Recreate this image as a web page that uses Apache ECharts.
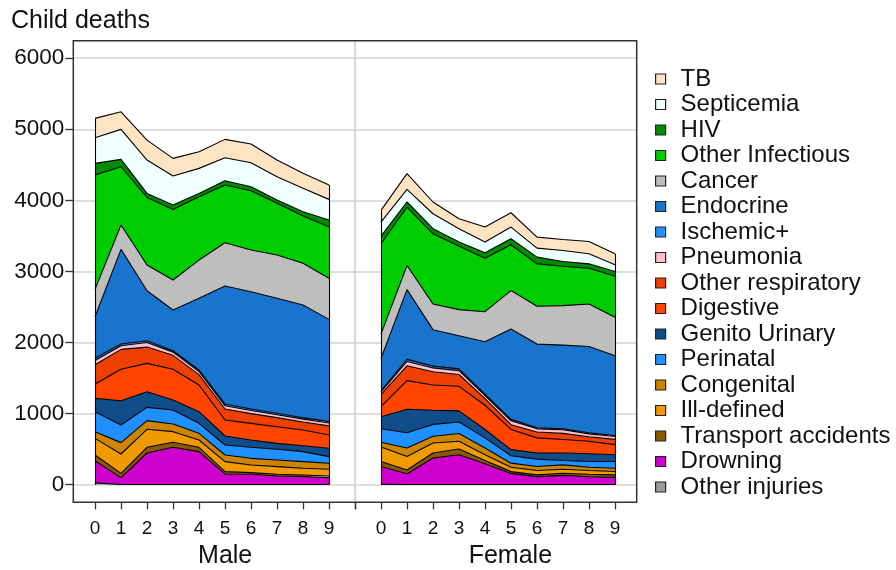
<!DOCTYPE html>
<html><head><meta charset="utf-8">
<script src="https://cdn.jsdelivr.net/npm/echarts@6/dist/echarts.min.js"></script>
<style>html,body{margin:0;padding:0;background:#fff}#c{width:896px;height:570px}</style>
</head><body><div id="c"></div>
<script>
// ---- data ----
const ages = [0,1,2,3,4,5,6,7,8,9];
const causes = ['TB','Septicemia','HIV','Other Infectious','Cancer','Endocrine','Ischemic+','Pneumonia','Other respiratory','Digestive','Genito Urinary','Perinatal','Congenital','Ill-defined','Transport accidents','Drowning','Other injuries'];
const panelNames = ['Male','Female'];

const male_TB        = [273, 247, 281, 249, 234, 259, 263, 235, 211, 201];
const male_Sept      = [360, 422, 469, 408, 352, 323, 338, 328, 329, 291];
const male_HIV       = [164, 104, 56, 61, 47, 61, 56, 46, 61, 94];
const male_OtherInf  = [1608, 820, 952, 994, 891, 811, 834, 727, 665, 726];
const male_Cancer    = [385, 342, 361, 422, 538, 609, 587, 609, 587, 577];
const male_Endocrine = [585, 1332, 703, 572, 1009, 1660, 1649, 1618, 1584, 1439];
const male_Ischemic  = [30, 25, 25, 20, 20, 25, 20, 20, 20, 20];
const male_Pneumonia = [60, 50, 65, 45, 45, 45, 45, 40, 40, 40];
const male_OtherResp = [271, 281, 229, 197, 146, 155, 137, 128, 113, 128];
const male_Digestive = [202, 441, 398, 431, 375, 225, 234, 234, 221, 187];
const male_Genito    = [188, 342, 221, 141, 164, 126, 103, 84, 84, 117];
const male_Perinatal = [281, 248, 187, 197, 140, 141, 155, 150, 141, 94];
const male_Congenital= [94, 160, 122, 108, 94, 94, 94, 94, 93, 84];
const male_IllDef    = [234, 272, 253, 150, 103, 140, 107, 108, 94, 94];
const male_Transport = [80, 61, 80, 70, 61, 33, 24, 23, 24, 24];
const male_Drowning  = [313, 96, 443, 523, 462, 148, 143, 120, 110, 96];
const male_OtherInj  = [25, 3, 3, 3, 3, 3, 3, 3, 3, 3];

const female_TB        = [164, 221, 165, 141, 211, 202, 155, 155, 174, 155];
const female_Sept      = [198, 178, 211, 188, 151, 164, 127, 155, 141, 94];
const female_HIV       = [108, 71, 71, 57, 75, 85, 94, 66, 61, 66];
const female_OtherInf  = [1270, 823, 987, 893, 753, 644, 597, 555, 503, 578];
const female_Cancer    = [343, 338, 362, 367, 423, 541, 532, 555, 598, 541];
const female_Endocrine = [454, 982, 513, 466, 736, 1271, 1177, 1177, 1215, 1122];
const female_Ischemic  = [15, 30, 25, 25, 20, 20, 15, 15, 15, 15];
const female_Pneumonia = [35, 60, 55, 55, 45, 55, 45, 50, 40, 40];
const female_OtherResp = [173, 209, 185, 166, 92, 67, 82, 87, 64, 73];
const female_Digestive = [142, 403, 356, 346, 341, 284, 214, 190, 175, 142];
const female_Genito    = [170, 331, 199, 157, 118, 86, 85, 104, 109, 95];
const female_Perinatal = [190, 214, 166, 161, 143, 104, 104, 62, 81, 95];
const female_Congenital= [66, 118, 95, 109, 94, 57, 57, 61, 47, 47];
const female_IllDef    = [204, 190, 142, 109, 81, 62, 61, 57, 52, 47];
const female_Transport = [70, 55, 70, 80, 45, 25, 25, 30, 35, 35];
const female_Drowning  = [252, 150, 372, 419, 293, 156, 110, 128, 109, 100];
const female_OtherInj  = [5, 3, 3, 3, 3, 3, 3, 3, 3, 3];

const maleData = {
  'TB': male_TB, 'Septicemia': male_Sept, 'HIV': male_HIV, 'Other Infectious': male_OtherInf,
  'Cancer': male_Cancer, 'Endocrine': male_Endocrine, 'Ischemic+': male_Ischemic, 'Pneumonia': male_Pneumonia,
  'Other respiratory': male_OtherResp, 'Digestive': male_Digestive, 'Genito Urinary': male_Genito,
  'Perinatal': male_Perinatal, 'Congenital': male_Congenital, 'Ill-defined': male_IllDef,
  'Transport accidents': male_Transport, 'Drowning': male_Drowning, 'Other injuries': male_OtherInj
};
const femaleData = {
  'TB': female_TB, 'Septicemia': female_Sept, 'HIV': female_HIV, 'Other Infectious': female_OtherInf,
  'Cancer': female_Cancer, 'Endocrine': female_Endocrine, 'Ischemic+': female_Ischemic, 'Pneumonia': female_Pneumonia,
  'Other respiratory': female_OtherResp, 'Digestive': female_Digestive, 'Genito Urinary': female_Genito,
  'Perinatal': female_Perinatal, 'Congenital': female_Congenital, 'Ill-defined': female_IllDef,
  'Transport accidents': female_Transport, 'Drowning': female_Drowning, 'Other injuries': female_OtherInj
};

// ---- style ----
const colors = {
  'TB':'#FFE4C4','Septicemia':'#F0FFFF','HIV':'#008B00','Other Infectious':'#00CD00','Cancer':'#BEBEBE',
  'Endocrine':'#1874CD','Ischemic+':'#1E90FF','Pneumonia':'#FFC0CB','Other respiratory':'#EE4000',
  'Digestive':'#FF4500','Genito Urinary':'#104E8B','Perinatal':'#1E90FF','Congenital':'#CD8500',
  'Ill-defined':'#EE9A00','Transport accidents':'#8B5A00','Drowning':'#CD00CD','Other injuries':'#9C9C9C'
};
const FONT = 'Liberation Sans, Arial, sans-serif';
const TXT = '#111';

function totals(d, i){ return causes.reduce((s,c)=>s+d[c][i],0); }

const series = [];
const stackOrder = causes.slice().reverse();
[[maleData,0,'m'],[femaleData,1,'f']].forEach(([d,gi,st])=>{
  stackOrder.forEach((c,k)=>{
    // value column first so that the stacked dimension is the y value; x (age) read via encode
    const s = {
      type:'line', name:c, xAxisIndex:gi, yAxisIndex:gi, stack:st,
      data: ages.map((a,i)=>[d[c][i], a]),
      encode:{x:1, y:0},
      symbol:'none', showSymbol:false, smooth:false,
      lineStyle:{color:'#000', width:1.1},
      itemStyle:{color:colors[c]},
      areaStyle:{color:colors[c], opacity:1},
      emphasis:{disabled:true}, silent:true
    };
    if (k === stackOrder.length-1) {
      const first = ages[0], last = ages[ages.length-1];
      s.markLine = {
        symbol:'none', silent:true, animation:false,
        lineStyle:{color:'#000', width:1.1, type:'solid'}, label:{show:false},
        data:[
          [{coord:[first,0]},{coord:[first,totals(d,0)]}],
          [{coord:[last,0]},{coord:[last,totals(d,ages.length-1)]}]
        ]
      };
    }
    series.push(s);
  });
});

const xCommon = (gi,min,max,name,extraTick,shift)=>({
  gridIndex:gi, type:'value', min:min, max:max, offset:17.6,
  axisLine:{show:false, onZero:false},
  axisTick:{show:true, length:7, customValues: ages.concat([extraTick]), lineStyle:{color:'#333', width:1.3}},
  axisLabel:{customValues: ages, fontSize:19, color:TXT, margin:17, fontFamily:FONT},
  splitLine:{show:false},
  name:name, nameLocation:'middle', nameGap:41,
  nameTextStyle:{fontSize:25, color:TXT, fontFamily:FONT, padding:[0,0,0,shift]}
});

const option = {
  animation:false,
  textStyle:{fontFamily:FONT},
  title:{text:'Child deaths', left:11, top:9, padding:0,
    textStyle:{fontSize:25, fontWeight:'normal', color:TXT, fontFamily:FONT}},
  legend:{
    orient:'vertical', left:655, top:67, padding:0,
    itemWidth:10, itemHeight:10, itemGap:1.5, icon:'rect', selectedMode:false,
    itemStyle:{borderColor:'#222', borderWidth:1.2},
    textStyle:{fontSize:24, lineHeight:24, color:TXT, padding:[0,0,0,10], fontFamily:FONT},
    data: causes
  },
  grid:[
    {left:73.3, top:58.2, width:281.7, height:426.5, containLabel:false, outerBoundsMode:'none'},
    {left:355, top:58.2, width:281.7, height:426.5, containLabel:false, outerBoundsMode:'none'}
  ],
  xAxis:[
    xCommon(0,-0.835,10,panelNames[0],10,22),
    xCommon(1,-1,9.835,panelNames[1],-1,29)
  ],
  yAxis:[
    {gridIndex:0, type:'value', min:0, max:6000, interval:1000,
     axisLine:{show:false, onZero:false},
     axisTick:{show:true, length:8, lineStyle:{color:'#333', width:1.3}},
     axisLabel:{fontSize:22.5, color:TXT, margin:9, fontFamily:FONT, formatter:(v)=>String(v)},
     splitLine:{show:true, lineStyle:{color:'#d3d3d3', width:1.5}}},
    {gridIndex:1, type:'value', min:0, max:6000, interval:1000,
     axisLine:{show:false, onZero:false}, axisTick:{show:false}, axisLabel:{show:false},
     splitLine:{show:true, lineStyle:{color:'#d3d3d3', width:1.5}}}
  ],
  graphic:[
    {type:'line', z:-1, shape:{x1:355, y1:40.7, x2:355, y2:502.3}, style:{stroke:'#cfcfcf', lineWidth:1.6}},
    {type:'rect', z:100, shape:{x:73.3, y:40.7, width:563.4, height:461.6}, style:{fill:'none', stroke:'#333', lineWidth:1.5}}
  ],
  series: series
};

const chart = echarts.init(document.getElementById('c'), null, {renderer:'canvas'});
chart.setOption(option);
</script>
</body></html>
